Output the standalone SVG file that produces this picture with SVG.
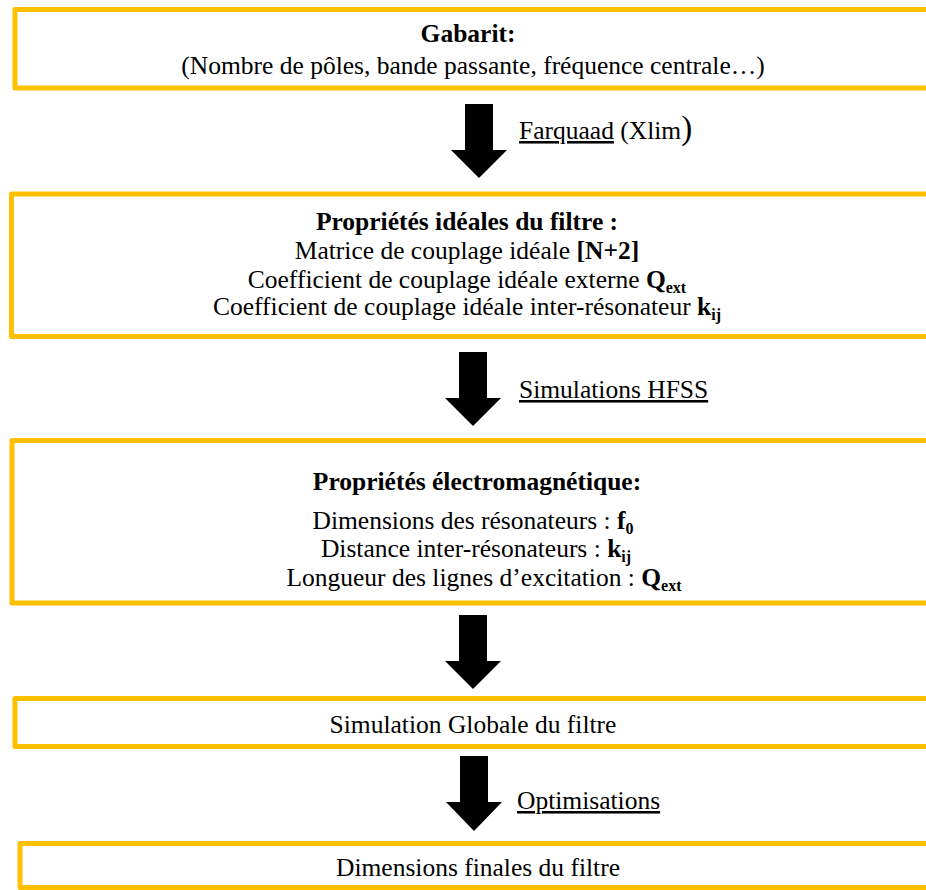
<svg xmlns="http://www.w3.org/2000/svg" width="926" height="890" viewBox="0 0 926 890">
<style>
.box{fill:#fff;stroke:#FFC000;stroke-width:5;stroke-linejoin:round}
text{font-family:"Liberation Serif","Times New Roman",Times,serif;font-size:25.5px;fill:#000}
.c{text-anchor:middle}
.b{font-weight:bold}
.sub{font-weight:bold;font-size:16px}
.u{text-decoration:underline}
.arrow{fill:#000}
</style>
<rect width="926" height="890" fill="#fff"/>
<g id="gabarit">
<rect class="box" x="15" y="9.5" width="930" height="78.5"/>
<text class="c b" x="468" y="42">Gabarit:</text>
<text class="c" x="473" y="74">(Nombre de pôles, bande passante, fréquence centrale…)</text>
</g>
<g id="proprietes-ideales">
<rect class="box" x="11.5" y="194" width="935" height="142.5"/>
<text class="c b" x="467" y="230">Propriétés idéales du filtre :</text>
<text class="c" x="467" y="259">Matrice de couplage idéale <tspan class="b">[N+2]</tspan></text>
<text class="c" x="467" y="288">Coefficient de couplage idéale externe <tspan class="b">Q</tspan><tspan class="sub" dy="5">ext</tspan></text>
<text class="c" x="467" y="315">Coefficient de couplage idéale inter-résonateur <tspan class="b">k</tspan><tspan class="sub" dy="5">ij</tspan></text>
</g>
<g id="proprietes-em">
<rect class="box" x="12" y="440.5" width="935" height="162.5"/>
<text class="c b" x="477" y="490">Propriétés électromagnétique:</text>
<text class="c" x="473" y="529">Dimensions des résonateurs : <tspan class="b">f</tspan><tspan class="sub" dy="5">0</tspan></text>
<text class="c" x="476" y="557">Distance inter-résonateurs : <tspan class="b">k</tspan><tspan class="sub" dy="5">ij</tspan></text>
<text class="c" x="484" y="586">Longueur des lignes d’excitation : <tspan class="b">Q</tspan><tspan class="sub" dy="5">ext</tspan></text>
</g>
<g id="simulation-globale">
<rect class="box" x="15" y="698.5" width="935" height="48"/>
<text class="c" x="473" y="733">Simulation Globale du filtre</text>
</g>
<g id="dimensions-finales">
<rect class="box" x="20" y="843.5" width="930" height="44"/>
<text class="c" x="478" y="876">Dimensions finales du filtre</text>
</g>
<g id="connectors">
<polygon class="arrow" points="465,104 493,104 493,150 507,150 479,178 451,150 465,150"/>
<text x="519" y="139"><tspan class="u">Farquaad</tspan> (Xlim<tspan font-size="33">)</tspan></text>
<polygon class="arrow" points="459,352 487,352 487,398 501,398 473,426 445,398 459,398"/>
<text class="u" x="519" y="398">Simulations HFSS</text>
<polygon class="arrow" points="459,615 487,615 487,661 501,661 473,689 445,661 459,661"/>
<polygon class="arrow" points="460,756 488,756 488,802 502,802 474,831 446,802 460,802"/>
<text class="u" x="517" y="809">Optimisations</text>
</g>
</svg>
